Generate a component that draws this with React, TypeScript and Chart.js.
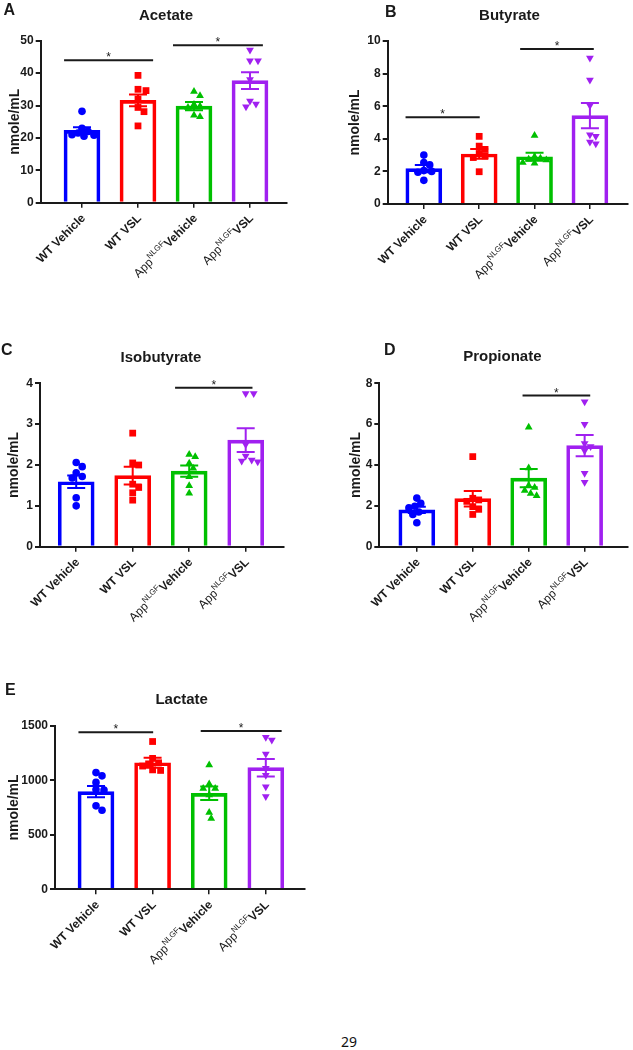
import React, { useEffect, useRef } from "react";
import { Chart, registerables } from "chart.js";

Chart.register(...registerables);

const FONT = "'Liberation Sans', Arial, Helvetica, sans-serif";
const AXIS = "#1a1a1a";
const TEXT = "#1a1a1a";

type Part = { text: string; kind: "bold" | "regular" | "sup" };

// Group (category) labels
const groupLabels: Part[][] = [
  [{ text: "WT Vehicle", kind: "bold" }],
  [{ text: "WT VSL", kind: "bold" }],
  [
    { text: "App", kind: "regular" },
    { text: "NLGF", kind: "sup" },
    { text: "Vehicle", kind: "bold" },
  ],
  [
    { text: "App", kind: "regular" },
    { text: "NLGF", kind: "sup" },
    { text: "VSL", kind: "bold" },
  ],
];
const groupColors = ["#0000ff", "#ff0000", "#00c000", "#a020f0"];
const groupTicks = [0, 1, 2, 3];

// ---------- A: Acetate ----------
const acetateWtVehicle = [28.2, 23.0, 22.0, 21.5, 21.0, 20.8, 20.5];
const acetateWtVsl = [39.3, 35.0, 34.6, 32.0, 29.4, 28.1, 23.7];
const acetateAppVehicle = [34.3, 33.0, 30.3, 29.8, 29.4, 27.0, 26.5];
const acetateAppVsl = [47.1, 43.8, 43.8, 38.0, 31.4, 30.5, 29.6];
const acetateMeans = [22.3, 31.6, 29.8, 37.7];
const acetateSems = [1.0, 1.8, 1.3, 2.6];
const acetateYTicks = [0, 10, 20, 30, 40, 50];
const acetateSig = [
  { from: -0.32, to: 1.27, y: 44.0 },
  { from: 1.625, to: 3.23, y: 48.6 },
];

// ---------- B: Butyrate ----------
const butyrateWtVehicle = [3.0, 2.55, 2.4, 2.05, 2.0, 1.95, 1.45];
const butyrateWtVsl = [4.15, 3.55, 3.35, 3.1, 2.95, 2.85, 1.98];
const butyrateAppVehicle = [4.2, 2.9, 2.8, 2.75, 2.7, 2.55, 2.5];
const butyrateAppVsl = [8.95, 7.6, 6.05, 4.25, 4.15, 3.8, 3.7];
const butyrateMeans = [2.17, 3.07, 2.9, 5.42];
const butyrateSems = [0.22, 0.3, 0.25, 0.78];
const butyrateYTicks = [0, 2, 4, 6, 8, 10];
const butyrateSig = [
  { from: -0.33, to: 1.01, y: 5.32 },
  { from: 1.74, to: 3.07, y: 9.51 },
];

// ---------- C: Isobutyrate ----------
const isobutyrateWtVehicle = [2.06, 1.96, 1.81, 1.72, 1.68, 1.2, 1.0];
const isobutyrateWtVsl = [2.78, 2.05, 2.0, 1.53, 1.45, 1.32, 1.14];
const isobutyrateAppVehicle = [2.26, 2.2, 2.04, 1.92, 1.71, 1.49, 1.31];
const isobutyrateAppVsl = [3.75, 3.75, 2.5, 2.22, 2.12, 2.1, 2.08];
const isobutyrateMeans = [1.59, 1.74, 1.85, 2.61];
const isobutyrateSems = [0.15, 0.22, 0.14, 0.29];
const isobutyrateYTicks = [0, 1, 2, 3, 4];
const isobutyrateSig = [{ from: 1.75, to: 3.12, y: 3.89 }];

// ---------- D: Propionate ----------
const propionateWtVehicle = [2.38, 2.12, 1.98, 1.9, 1.7, 1.58, 1.17];
const propionateWtVsl = [4.41, 2.37, 2.29, 2.22, 1.96, 1.83, 1.58];
const propionateAppVehicle = [5.85, 3.85, 3.0, 2.9, 2.75, 2.6, 2.5];
const propionateAppVsl = [7.1, 6.0, 5.05, 4.9, 4.7, 3.6, 3.15];
const propionateMeans = [1.8, 2.35, 3.36, 4.95];
const propionateSems = [0.15, 0.38, 0.45, 0.52];
const propionateYTicks = [0, 2, 4, 6, 8];
const propionateSig = [{ from: 1.89, to: 3.1, y: 7.4 }];

// ---------- E: Lactate ----------
const lactateWtVehicle = [1070, 1040, 980, 915, 910, 765, 725];
const lactateWtVsl = [1355, 1200, 1160, 1150, 1130, 1095, 1090];
const lactateAppVehicle = [1140, 965, 925, 925, 865, 705, 650];
const lactateAppVsl = [1395, 1370, 1240, 1110, 1045, 940, 850];
const lactateMeans = [895, 1160, 880, 1115];
const lactateSems = [52, 45, 62, 80];
const lactateYTicks = [0, 500, 1000, 1500];
const lactateSig = [
  { from: -0.31, to: 1.01, y: 1439 },
  { from: 1.85, to: 3.28, y: 1451 },
];

type Sig = { from: number; to: number; y: number };
type PanelCfg = {
  letter: string;
  title: string;
  groups: number[][];
  means: number[];
  sems: number[];
  yTicks: number[];
  sig: Sig[];
  box: { left: number; top: number; width: number; height: number };
  plot: { left: number; right: number; top: number; bottom: number };
  c0: number;
  step: number;
  letterPos: [number, number];
  titlePos: [number, number];
  yTitleX: number;
};

const panels: PanelCfg[] = [
  {
    letter: "A",
    title: "Acetate",
    groups: [acetateWtVehicle, acetateWtVsl, acetateAppVehicle, acetateAppVsl],
    means: acetateMeans,
    sems: acetateSems,
    yTicks: acetateYTicks,
    sig: acetateSig,
    box: { left: 0, top: 0, width: 316, height: 335 },
    plot: { left: 40.7, right: 287, top: 40.7, bottom: 202.7 },
    c0: 82,
    step: 56,
    letterPos: [3.5, 14.5],
    titlePos: [166, 20],
    yTitleX: 15,
  },
  {
    letter: "B",
    title: "Butyrate",
    groups: [butyrateWtVehicle, butyrateWtVsl, butyrateAppVehicle, butyrateAppVsl],
    means: butyrateMeans,
    sems: butyrateSems,
    yTicks: butyrateYTicks,
    sig: butyrateSig,
    box: { left: 316, top: 0, width: 317, height: 335 },
    plot: { left: 387.7, right: 632.7, top: 41, bottom: 204 },
    c0: 424.5,
    step: 56.4,
    letterPos: [385, 16.5],
    titlePos: [509.5, 20],
    yTitleX: 355,
  },
  {
    letter: "C",
    title: "Isobutyrate",
    groups: [isobutyrateWtVehicle, isobutyrateWtVsl, isobutyrateAppVehicle, isobutyrateAppVsl],
    means: isobutyrateMeans,
    sems: isobutyrateSems,
    yTicks: isobutyrateYTicks,
    sig: isobutyrateSig,
    box: { left: 0, top: 335, width: 316, height: 345 },
    plot: { left: 40, right: 283.3, top: 383.3, bottom: 546.7 },
    c0: 76.2,
    step: 56.5,
    letterPos: [1, 355],
    titlePos: [161, 361.5],
    yTitleX: 14.3,
  },
  {
    letter: "D",
    title: "Propionate",
    groups: [propionateWtVehicle, propionateWtVsl, propionateAppVehicle, propionateAppVsl],
    means: propionateMeans,
    sems: propionateSems,
    yTicks: propionateYTicks,
    sig: propionateSig,
    box: { left: 316, top: 335, width: 317, height: 345 },
    plot: { left: 379.3, right: 630.7, top: 383.3, bottom: 546.7 },
    c0: 417.2,
    step: 56.5,
    letterPos: [384, 355],
    titlePos: [502.3, 360.5],
    yTitleX: 355.8,
  },
  {
    letter: "E",
    title: "Lactate",
    groups: [lactateWtVehicle, lactateWtVsl, lactateAppVehicle, lactateAppVsl],
    means: lactateMeans,
    sems: lactateSems,
    yTicks: lactateYTicks,
    sig: lactateSig,
    box: { left: 0, top: 680, width: 316, height: 320 },
    plot: { left: 55, right: 305, top: 725.7, bottom: 889.3 },
    c0: 96,
    step: 56.6,
    letterPos: [5, 695],
    titlePos: [181.7, 704],
    yTitleX: 14.3,
  },
];

const MIN_DIST = 6.2; // px: minimum centre distance between markers in a swarm
const TRY_STEP = 2; // px: horizontal search step

// Collision-based beeswarm: place points from top to bottom, nearest free spot to the centre
function swarm(vals: number[], ppu: number, stepPx: number): number[] {
  const order = vals.map((_, i) => i).sort((a, b) => vals[b] - vals[a]);
  const out = new Array(vals.length).fill(0);
  const placed: { x: number; y: number }[] = [];
  for (const id of order) {
    const y = vals[id] * ppu;
    let chosen = 0;
    for (let k = 0; k < 40; k++) {
      const cand = k === 0 ? 0 : (k % 2 === 1 ? 1 : -1) * Math.ceil(k / 2) * TRY_STEP;
      const ok = placed.every((p) => Math.hypot(p.x - cand, p.y - y) >= MIN_DIST);
      if (ok) {
        chosen = cand;
        break;
      }
    }
    placed.push({ x: chosen, y });
    out[id] = chosen / stepPx;
  }
  return out;
}

function drawLabel(ctx: CanvasRenderingContext2D, parts: Part[], x: number, y: number) {
  const fonts: Record<string, string> = {
    bold: `bold 12px ${FONT}`,
    regular: `12px ${FONT}`,
    sup: `8px ${FONT}`,
  };
  ctx.save();
  ctx.translate(x, y);
  ctx.rotate(-Math.PI / 4);
  ctx.textBaseline = "alphabetic";
  ctx.textAlign = "left";
  ctx.fillStyle = TEXT;
  const widths = parts.map((p) => {
    ctx.font = fonts[p.kind];
    return ctx.measureText(p.text).width;
  });
  const total = widths.reduce((a, b) => a + b, 0);
  let cx = -total;
  parts.forEach((p, i) => {
    ctx.font = fonts[p.kind];
    ctx.fillText(p.text, cx, p.kind === "sup" ? -5.5 : 0);
    cx += widths[i];
  });
  ctx.restore();
}

function Panel({ cfg }: { cfg: PanelCfg }) {
  const ref = useRef<HTMLCanvasElement | null>(null);
  useEffect(() => {
    const c = cfg;
    const { box, plot } = c;
    const yMax = c.yTicks[c.yTicks.length - 1];
    const xMin = -(c.c0 - plot.left) / c.step;
    const xMax = (plot.right - c.c0) / c.step;
    const ppu = (plot.bottom - plot.top) / yMax;
    const markers = [
      { style: "circle", r: 3.8, rot: 0 },
      { style: "rect", r: 4.8, rot: 0 },
      { style: "triangle", r: 4.5, rot: 0 },
      { style: "triangle", r: 4.5, rot: 180 },
    ];

    const scatterSets = c.groups.map((vals, g) => {
      const offs = swarm(vals, ppu, c.step);
      return {
        type: "scatter" as const,
        data: vals.map((v, k) => ({ x: g + offs[k], y: v })),
        pointStyle: markers[g].style as any,
        pointRotation: markers[g].rot,
        pointRadius: markers[g].r,
        pointHoverRadius: markers[g].r,
        backgroundColor: groupColors[g],
        borderColor: groupColors[g],
        borderWidth: 0,
        showLine: false,
        order: 1,
        clip: false as any,
      };
    });

    const overlay = {
      id: "overlay" + c.letter,
      afterDatasetsDraw(chart: any) {
        const ctx: CanvasRenderingContext2D = chart.ctx;
        const xs = chart.scales.x;
        const ys = chart.scales.y;
        // error bars (mean ± SEM)
        c.means.forEach((m, i) => {
          const px = xs.getPixelForValue(i);
          const hi = ys.getPixelForValue(m + c.sems[i]);
          const lo = ys.getPixelForValue(m - c.sems[i]);
          ctx.save();
          ctx.strokeStyle = groupColors[i];
          ctx.lineWidth = 2;
          ctx.beginPath();
          ctx.moveTo(px, hi);
          ctx.lineTo(px, lo);
          ctx.moveTo(px - 9, hi);
          ctx.lineTo(px + 9, hi);
          ctx.moveTo(px - 9, lo);
          ctx.lineTo(px + 9, lo);
          ctx.stroke();
          ctx.restore();
        });
        // significance bars
        c.sig.forEach((s) => {
          const x1 = xs.getPixelForValue(s.from);
          const x2 = xs.getPixelForValue(s.to);
          const y = ys.getPixelForValue(s.y);
          ctx.save();
          ctx.strokeStyle = AXIS;
          ctx.lineWidth = 2;
          ctx.beginPath();
          ctx.moveTo(x1, y);
          ctx.lineTo(x2, y);
          ctx.stroke();
          ctx.fillStyle = TEXT;
          ctx.font = `12px ${FONT}`;
          ctx.textAlign = "center";
          ctx.textBaseline = "alphabetic";
          ctx.fillText("*", (x1 + x2) / 2, y + 1);
          ctx.restore();
        });
      },
      afterDraw(chart: any) {
        const ctx: CanvasRenderingContext2D = chart.ctx;
        const xs = chart.scales.x;
        const bottom = chart.chartArea.bottom;
        ctx.save();
        ctx.fillStyle = TEXT;
        // panel letter
        ctx.font = `bold 16px ${FONT}`;
        ctx.textAlign = "left";
        ctx.textBaseline = "alphabetic";
        ctx.fillText(c.letter, c.letterPos[0] - box.left, c.letterPos[1] - box.top);
        // title
        ctx.font = `bold 15px ${FONT}`;
        ctx.textAlign = "center";
        ctx.fillText(c.title, c.titlePos[0] - box.left, c.titlePos[1] - box.top);
        // y title
        ctx.save();
        ctx.translate(c.yTitleX - box.left, (plot.top + plot.bottom) / 2 - box.top);
        ctx.rotate(-Math.PI / 2);
        ctx.font = `bold 14px ${FONT}`;
        ctx.textAlign = "center";
        ctx.textBaseline = "middle";
        ctx.fillText("nmole/mL", 0, 0);
        ctx.restore();
        ctx.restore();
        // x labels
        groupLabels.forEach((parts, i) => {
          const px = xs.getPixelForValue(i);
          drawLabel(ctx, parts, px + 4, bottom + 16);
        });
      },
    };

    const chart = new Chart(ref.current as HTMLCanvasElement, {
      type: "bar",
      data: {
        datasets: [
          ...scatterSets,
          {
            type: "bar" as const,
            data: c.means.map((m, i) => ({ x: i, y: m })),
            backgroundColor: "rgba(255,255,255,0)",
            borderColor: groupColors,
            borderWidth: 3,
            barThickness: 36,
            order: 2,
          } as any,
        ],
      },
      options: {
        responsive: false,
        animation: false,
        devicePixelRatio: 1,
        events: [],
        layout: {
          padding: {
            top: plot.top - box.top,
            left: 0,
            right: box.left + box.width - plot.right,
            bottom: 0,
          },
        },
        plugins: {
          legend: { display: false },
          tooltip: { enabled: false },
          title: { display: false },
        },
        scales: {
          x: {
            type: "linear",
            min: xMin,
            max: xMax,
            offset: false,
            z: 1,
            grid: {
              display: true,
              drawOnChartArea: false,
              drawTicks: true,
              tickLength: 5,
              color: AXIS,
              lineWidth: 1.5,
              offset: false,
            },
            border: { display: true, color: AXIS, width: 2 },
            ticks: { display: false },
            afterBuildTicks: (s: any) => {
              s.ticks = groupTicks.map((v) => ({ value: v }));
            },
            afterFit: (s: any) => {
              s.height = box.top + box.height - plot.bottom;
            },
          } as any,
          y: {
            type: "linear",
            min: 0,
            max: yMax,
            z: 1,
            grid: {
              display: true,
              drawOnChartArea: false,
              drawTicks: true,
              tickLength: 5,
              color: AXIS,
              lineWidth: 2,
            },
            border: { display: true, color: AXIS, width: 2 },
            ticks: {
              color: TEXT,
              padding: 2,
              font: { family: FONT, size: 12, weight: "bold" },
              callback: (v: any) => String(v),
            },
            afterBuildTicks: (s: any) => {
              s.ticks = c.yTicks.map((v) => ({ value: v }));
            },
            afterFit: (s: any) => {
              s.width = plot.left - box.left;
            },
          } as any,
        },
      },
      plugins: [overlay],
    });
    return () => chart.destroy();
  }, [cfg]);

  return (
    <canvas
      ref={ref}
      width={cfg.box.width}
      height={cfg.box.height}
      style={{
        position: "absolute",
        left: cfg.box.left,
        top: cfg.box.top,
        width: cfg.box.width,
        height: cfg.box.height,
      }}
    />
  );
}

export default function App() {
  return (
    <div
      style={{
        position: "absolute",
        left: 0,
        top: 0,
        width: 633,
        height: 1050,
        background: "#ffffff",
        overflow: "hidden",
      }}
    >
      {panels.map((p) => (
        <Panel key={p.letter} cfg={p} />
      ))}
      <div
        style={{
          position: "absolute",
          left: 341,
          top: 1035,
          fontFamily: "'Noto Sans', 'Open Sans', sans-serif",
          fontSize: 14,
          lineHeight: "14px",
          color: "#111",
        }}
      >
        29
      </div>
    </div>
  );
}
